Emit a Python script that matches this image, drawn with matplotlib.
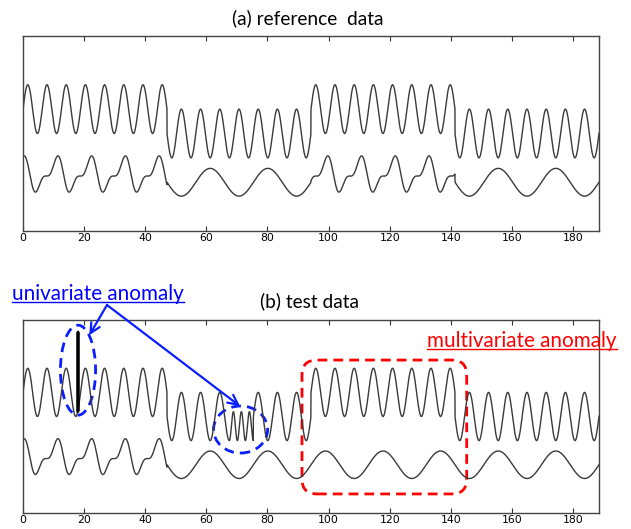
import numpy as np
import matplotlib.pyplot as plt
from matplotlib.patches import Ellipse, FancyBboxPatch
from matplotlib.lines import Line2D

# time axis is split into four blocks of equal length
seg_edges = [0.0, 47.12, 94.25, 141.37, 188.50]

# fast channel: oscillation level per block
fast_level_ref = [5.0, 4.0, 5.0, 4.0]
fast_level_test = [5.0, 4.0, 5.0, 4.0]
fast_amp = 1.0
fast_period = 6.283

# slow channel: 'h' = two-harmonic wave, 's' = plain sine
slow_kind_ref = ["h", "s", "h", "s"]
slow_kind_test = ["h", "s", "s", "s"]
sine_center, sine_amp, sine_period = 2.0, 0.57, 18.85
harm_center, harm_amp, harm_period, harm_phase = 2.31, 0.57, 11.04, -1.337
harm_coef = [-1.0, -0.5, -0.1]  # sin(th), sin(2th), cos(2th)

# univariate anomalies injected into the test data
spike_t, spike_value = 18.0, 7.5
burst_start, burst_end, burst_cycles = 67.54, 75.4, 3
burst_low, burst_high = 3.0, 4.2

x_ticks = [0, 20, 40, 60, 80, 100, 120, 140, 160, 180]

t = np.linspace(seg_edges[0], seg_edges[-1], 3771)
seg = np.clip(np.searchsorted(seg_edges, t, side="right") - 1, 0, 3)


def fast_channel(levels):
    return np.array(levels)[seg] + fast_amp * np.sin(2 * np.pi * t / fast_period)


def slow_channel(kinds):
    th = 2 * np.pi * t / harm_period + harm_phase
    harm = harm_center + harm_amp * (harm_coef[0] * np.sin(th)
                                     + harm_coef[1] * np.sin(2 * th)
                                     + harm_coef[2] * np.cos(2 * th))
    sine = sine_center + sine_amp * np.sin(2 * np.pi * t / sine_period)
    is_h = np.array([k == "h" for k in kinds])[seg]
    return np.where(is_h, harm, sine)


fast_ref = fast_channel(fast_level_ref)
slow_ref = slow_channel(slow_kind_ref)

fast_test = fast_channel(fast_level_test)
slow_test = slow_channel(slow_kind_test)
burst = (t >= burst_start) & (t < burst_end)
mid, half = (burst_low + burst_high) / 2, (burst_high - burst_low) / 2
fast_test[burst] = mid - half * np.cos(2 * np.pi * burst_cycles * (t[burst] - burst_start)
                                       / (burst_end - burst_start))
i_spike = int(np.argmin(np.abs(t - spike_t)))
fast_test[i_spike] = spike_value

W, H = 631, 529
fig = plt.figure(figsize=(W / 100, H / 100), dpi=100)
ax1 = fig.add_axes([23 / W, 1 - 231 / H, 576 / W, 195 / H])
ax2 = fig.add_axes([23 / W, 1 - 513 / H, 576 / W, 193 / H])

line_c = "#3a3a3a"
for ax in (ax1, ax2):
    ax.set_xlim(seg_edges[0], seg_edges[-1])
    ax.set_ylim(0, 8)
    ax.set_xticks(x_ticks)
    ax.set_yticks([])
    ax.tick_params(axis="x", direction="in", top=True, bottom=True, length=3.5,
                   width=0.8, color="#333333", pad=1.5, labelsize=7.8)
    for s in ax.spines.values():
        s.set_color("#444444")
        s.set_linewidth(1.0)

ax1.plot(t, fast_ref, color=line_c, lw=1.0)
ax1.plot(t, slow_ref, color=line_c, lw=1.0)
ax2.plot(t, fast_test, color=line_c, lw=1.0)
ax2.plot(t, slow_test, color=line_c, lw=1.0)
ax2.plot(t[i_spike - 1:i_spike + 2], fast_test[i_spike - 1:i_spike + 2], color="black", lw=2)

font = "Lato"
fig.text(308 / W, 1 - 18 / H, "(a) reference  data", ha="center", va="center",
         fontsize=13.8, family=font)
fig.text(310 / W, 1 - 301 / H, "(b) test data", ha="center", va="center",
         fontsize=13.8, family=font)
uni = fig.text(12 / W, 1 - 294 / H, "univariate anomaly", ha="left", va="center",
               fontsize=14.9, family=font, color="#0000ff")
multi = fig.text(427 / W, 1 - 341 / H, "multivariate anomaly", ha="left", va="center",
                 fontsize=14.9, family=font, color="#ff0000")

# dashed markers around the anomalies
blue = "#0a1eff"
ax2.add_patch(Ellipse((18.0, 5.92), 11.5, 3.73, fill=False, ec=blue, lw=2,
                      ls=(0, (3.5, 2.2)), clip_on=False))
ax2.add_patch(Ellipse((71.2, 3.46), 17.7, 1.95, fill=False, ec=blue, lw=2,
                      ls=(0, (3.5, 2.2)), clip_on=False))
ax2.add_patch(FancyBboxPatch((91.3, 0.79), 53.9, 5.55,
                             boxstyle="round,pad=0,rounding_size=4.9",
                             mutation_aspect=0.126, fill=False, ec="#ff0000", lw=2,
                             ls=(0, (3.5, 2.2)), clip_on=False))

for xy in [(21.7, 7.37), (71.0, 4.43)]:
    ax2.annotate("", xy=xy, xycoords="data", xytext=(107, H - 305),
                 textcoords="figure pixels",
                 arrowprops=dict(arrowstyle="->,head_length=0.7,head_width=0.35",
                                 color=blue, lw=1.6, shrinkA=0, shrinkB=0))

# underline the two anomaly labels
fig.canvas.draw()
renderer = fig.canvas.get_renderer()
for txt, col in [(uni, "#0000ff"), (multi, "#ff0000")]:
    bb = txt.get_window_extent(renderer)
    y = bb.y0 + 2.5
    fig.add_artist(Line2D([bb.x0 / W, bb.x1 / W], [y / H, y / H], color=col, lw=1.0,
                          transform=fig.transFigure))

fig.savefig("out.png", dpi=100)
